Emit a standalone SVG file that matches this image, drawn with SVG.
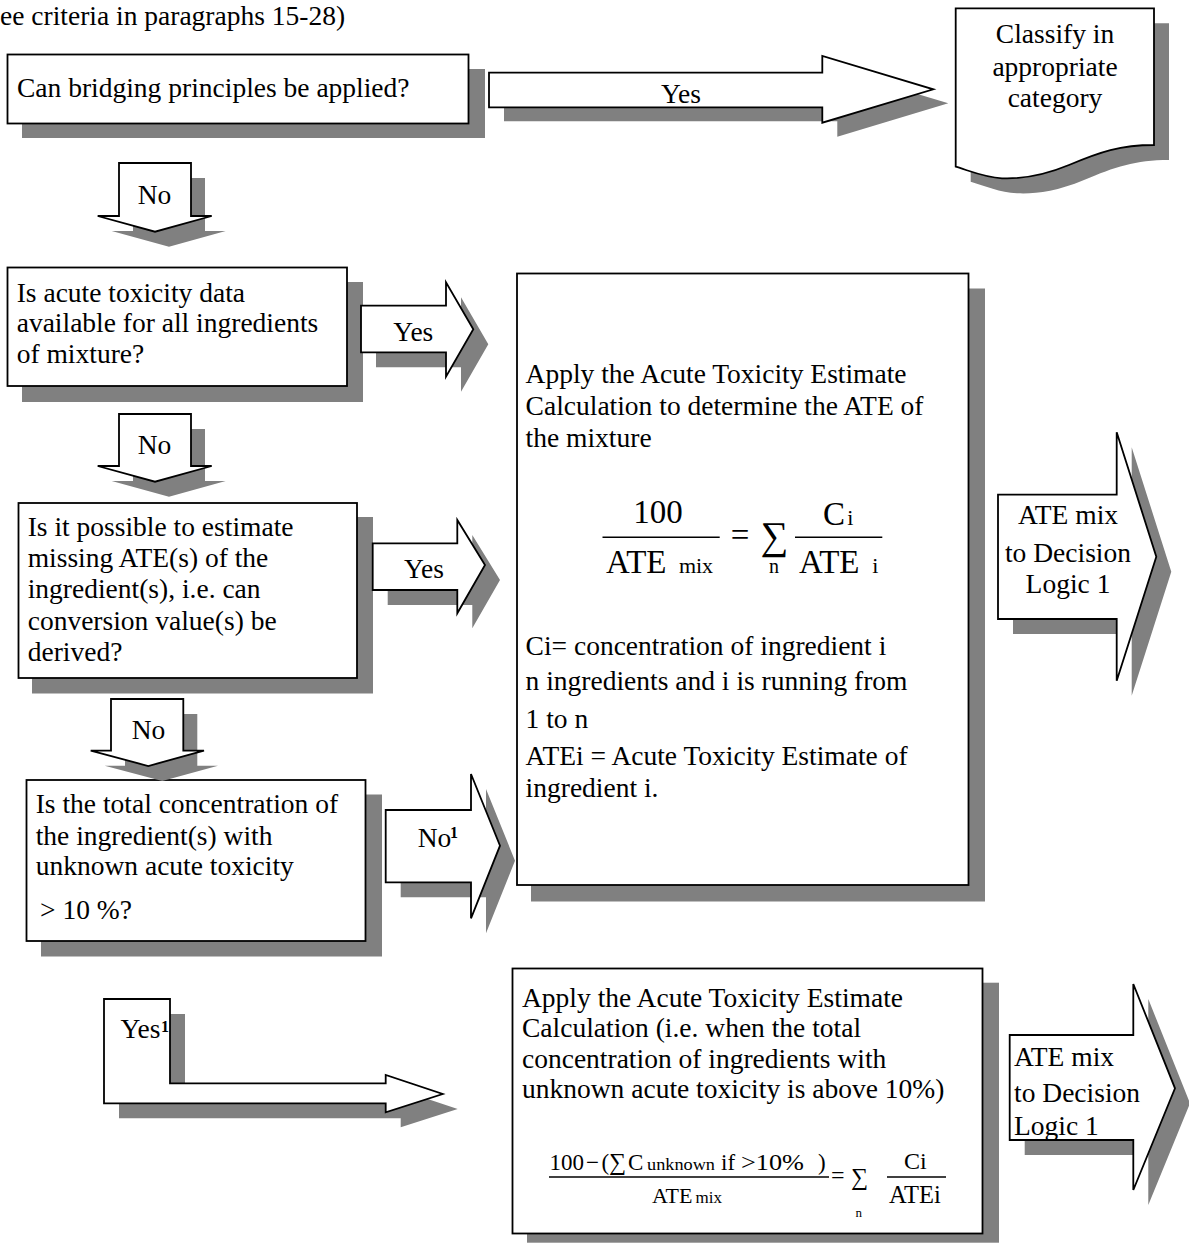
<svg xmlns="http://www.w3.org/2000/svg" width="1189" height="1243" viewBox="0 0 1189 1243">
<style>
.sh{fill:#808080;stroke:none}
.bx{fill:#fff;stroke:#000;stroke-width:1.8}
.t{font-family:"Liberation Serif","Times New Roman",serif;font-size:27.5px;fill:#000}
.m{font-family:"Liberation Serif","Times New Roman",serif;fill:#000}
.ln{stroke:#000;stroke-width:1.5}
.mid{text-anchor:middle}
.sup{font-weight:bold}
</style>
<defs>
<path id="pNo1" d="M119,163 H191 V216 H211.7 L155,231.7 L97.7,216 H119 Z"/>
<path id="pNo2" d="M119,414 H191 V466 H211.7 L155,481.7 L97.7,466 H119 Z"/>
<path id="pNo3" d="M111,699 H183.3 V750.7 H204 L148.3,766 L90.7,750.7 H111 Z"/>
<path id="pYes1" d="M489,72.7 H822.3 V56 L933.3,89.3 L822.3,122.7 V107.3 H489 Z"/>
<path id="pYes2" d="M361,305.7 H446 V282.3 L473.3,329.3 L446,376.7 V352.3 H361 Z"/>
<path id="pYes3" d="M372.7,543.3 H457.3 V520 L485,565 L457.3,613.3 V590 H372.7 Z"/>
<path id="pNoSup" d="M385.7,810 H471 V774 L500,845.7 L471,918.3 V882.3 H385.7 Z"/>
<path id="pBent" d="M104,999 H170 V1083.3 H385.7 V1075 L442.7,1094 L385.7,1112.3 V1103.3 H104 Z"/>
<path id="pAte1" d="M998,494.7 H1116.7 V432.3 L1156.3,556.7 L1116.7,680.7 V619 H998 Z"/>
<path id="pAte2" d="M1009.7,1035 H1133.3 V984 L1175,1088.3 L1133.3,1190 V1140 H1009.7 Z"/>
<path id="pDoc" d="M955.7,8.3 H1154 V145 C1120,145 1100,152 1069,165 C1040,177 1020,179 1002,178.3 C985,177.5 970,171 955.7,166.7 Z"/>
</defs>

<text class="t" x="0" y="25">ee criteria in paragraphs 15-28)</text>

<g id="node-bridging">
<rect class="sh" x="22" y="69" width="463" height="69"/>
<rect class="bx" x="7.5" y="54.5" width="461" height="69"/>
<text class="t" x="17" y="96.5">Can bridging principles be applied?</text>
</g>

<g id="node-classify">
<use href="#pDoc" class="sh" transform="translate(15,15)"/>
<use href="#pDoc" class="bx"/>
<text class="t mid" x="1055" y="43.3">Classify in</text>
<text class="t mid" x="1055" y="75.5">appropriate</text>
<text class="t mid" x="1055" y="106.5">category</text>
</g>

<g id="node-data-available">
<rect class="sh" x="22" y="282" width="341" height="120"/>
<rect class="bx" x="7.5" y="267.5" width="339.5" height="118.5"/>
<text class="t" x="16.7" y="301.5">Is acute toxicity data</text>
<text class="t" x="16.7" y="332">available for all ingredients</text>
<text class="t" x="16.7" y="362.5">of mixture?</text>
</g>

<g id="node-estimate-missing">
<rect class="sh" x="32" y="517" width="341" height="176.5"/>
<rect class="bx" x="18.5" y="503" width="338.5" height="175"/>
<text class="t" x="27.7" y="536">Is it possible to estimate</text>
<text class="t" x="27.7" y="567">missing ATE(s) of the</text>
<text class="t" x="27.7" y="598.3">ingredient(s), i.e. can</text>
<text class="t" x="27.7" y="630">conversion value(s) be</text>
<text class="t" x="27.7" y="660.5">derived?</text>
</g>

<g id="node-total-concentration">
<rect class="sh" x="41" y="794.5" width="341" height="162"/>
<rect class="bx" x="26.5" y="780" width="339" height="161"/>
<text class="t" x="35.7" y="813.3">Is the total concentration of</text>
<text class="t" x="35.7" y="845">the ingredient(s) with</text>
<text class="t" x="35.7" y="875">unknown acute toxicity</text>
<text class="t" x="40" y="919.3">&gt; 10 %?</text>
</g>

<g id="node-ate-calc">
<rect class="sh" x="531" y="288.5" width="454" height="613"/>
<rect class="bx" x="517" y="273.5" width="451.5" height="611.5"/>
<text class="t" x="525.6" y="383.3">Apply the Acute Toxicity Estimate</text>
<text class="t" x="525.6" y="415">Calculation to determine the ATE of</text>
<text class="t" x="525.6" y="446.7">the mixture</text>
<text class="m mid" x="658" y="523.3" font-size="33">100</text>
<line class="ln" x1="602.5" y1="537.3" x2="719.7" y2="537.3"/>
<text class="m" x="606" y="573.3" font-size="33">ATE</text>
<text class="m" x="678.9" y="573.3" font-size="22">mix</text>
<text class="m" x="730.7" y="546" font-size="33">=</text>
<text class="m" x="760.5" y="549" font-size="39">∑</text>
<text class="m" x="769" y="573.3" font-size="20">n</text>
<line class="ln" x1="795" y1="537.3" x2="882.3" y2="537.3"/>
<text class="m" x="823" y="525" font-size="33">C</text>
<text class="m" x="847.3" y="525" font-size="22">i</text>
<text class="m" x="799" y="573.3" font-size="33">ATE</text>
<text class="m" x="872.3" y="573.3" font-size="22">i</text>
<text class="t" x="525.6" y="655">Ci= concentration of ingredient i</text>
<text class="t" x="525.6" y="690">n ingredients and i is running from</text>
<text class="t" x="525.6" y="728.3">1 to n</text>
<text class="t" x="525.6" y="765">ATEi = Acute Toxicity Estimate of</text>
<text class="t" x="525.6" y="796.7">ingredient i.</text>
</g>

<g id="node-ate-calc-unknown">
<rect class="sh" x="527" y="982.7" width="472" height="260"/>
<rect class="bx" x="512.5" y="968.5" width="470" height="265"/>
<text class="t" x="522" y="1006.7">Apply the Acute Toxicity Estimate</text>
<text class="t" x="522" y="1036.7">Calculation (i.e. when the total</text>
<text class="t" x="522" y="1068.3">concentration of ingredients with</text>
<text class="t" x="522" y="1098.3">unknown acute toxicity is above 10%)</text>
<text class="m" x="549.5" y="1169.5" font-size="23">100</text>
<text class="m" x="586" y="1169.5" font-size="23">−</text>
<text class="m" x="601.5" y="1169.5" font-size="23">(</text>
<text class="m" x="609" y="1170" font-size="24">∑</text>
<text class="m" x="628" y="1169.5" font-size="23">C</text>
<text class="m" x="647" y="1169.5" font-size="17" textLength="68" lengthAdjust="spacingAndGlyphs">unknown</text>
<text class="m" x="721" y="1169.5" font-size="23">if</text>
<text class="m" x="741" y="1169.5" font-size="23" textLength="63" lengthAdjust="spacingAndGlyphs">&gt;10%</text>
<text class="m" x="818" y="1169.5" font-size="23">)</text>
<line class="ln" x1="549" y1="1177" x2="829" y2="1177"/>
<text class="m" x="652" y="1203.3" font-size="22">ATE</text>
<text class="m" x="695.5" y="1203.3" font-size="17">mix</text>
<text class="m" x="831" y="1183" font-size="24">=</text>
<text class="m" x="851" y="1185" font-size="24">∑</text>
<text class="m" x="855.5" y="1217" font-size="13">n</text>
<text class="m" x="904" y="1169" font-size="24">Ci</text>
<line class="ln" x1="887" y1="1177" x2="946" y2="1177"/>
<text class="m" x="889" y="1203.3" font-size="24.5">ATEi</text>
</g>

<g id="connectors">
<g id="arrow-yes-bridging">
<use href="#pYes1" class="sh" transform="translate(15,14)"/>
<use href="#pYes1" class="bx"/>
<text class="t" x="661" y="103.3">Yes</text>
</g>
<g id="arrow-no-1">
<use href="#pNo1" class="sh" transform="translate(14,15)"/>
<use href="#pNo1" class="bx"/>
<text class="t" x="137.7" y="204">No</text>
</g>
<g id="arrow-yes-data">
<use href="#pYes2" class="sh" transform="translate(15,15)"/>
<use href="#pYes2" class="bx"/>
<text class="t" x="393.3" y="340.7">Yes</text>
</g>
<g id="arrow-no-2">
<use href="#pNo2" class="sh" transform="translate(14,15)"/>
<use href="#pNo2" class="bx"/>
<text class="t" x="137.7" y="454">No</text>
</g>
<g id="arrow-yes-estimate">
<use href="#pYes3" class="sh" transform="translate(15,15)"/>
<use href="#pYes3" class="bx"/>
<text class="t" x="404" y="578.3">Yes</text>
</g>
<g id="arrow-no-3">
<use href="#pNo3" class="sh" transform="translate(14,15)"/>
<use href="#pNo3" class="bx"/>
<text class="t" x="131.7" y="739.3">No</text>
</g>
<g id="arrow-no-sup">
<use href="#pNoSup" class="sh" transform="translate(15,15)"/>
<use href="#pNoSup" class="bx"/>
<text class="t" x="417.7" y="846.7">No</text>
<text class="m sup" x="450" y="837.5" font-size="16">1</text>
</g>
<g id="arrow-yes-sup">
<use href="#pBent" class="sh" transform="translate(15,15)"/>
<use href="#pBent" class="bx"/>
<text class="t" x="120.5" y="1038.3">Yes</text>
<text class="m sup" x="161" y="1032" font-size="16">1</text>
</g>
<g id="arrow-ate-1">
<use href="#pAte1" class="sh" transform="translate(15,15)"/>
<use href="#pAte1" class="bx"/>
<text class="t mid" x="1068" y="524">ATE mix</text>
<text class="t mid" x="1068" y="561.7">to Decision</text>
<text class="t mid" x="1068" y="593.3">Logic 1</text>
</g>
<g id="arrow-ate-2">
<use href="#pAte2" class="sh" transform="translate(15,15)"/>
<use href="#pAte2" class="bx"/>
<text class="t" x="1014" y="1066">ATE mix</text>
<text class="t" x="1014" y="1101.7">to Decision</text>
<text class="t" x="1014" y="1135">Logic 1</text>
</g>
</g>
</svg>
